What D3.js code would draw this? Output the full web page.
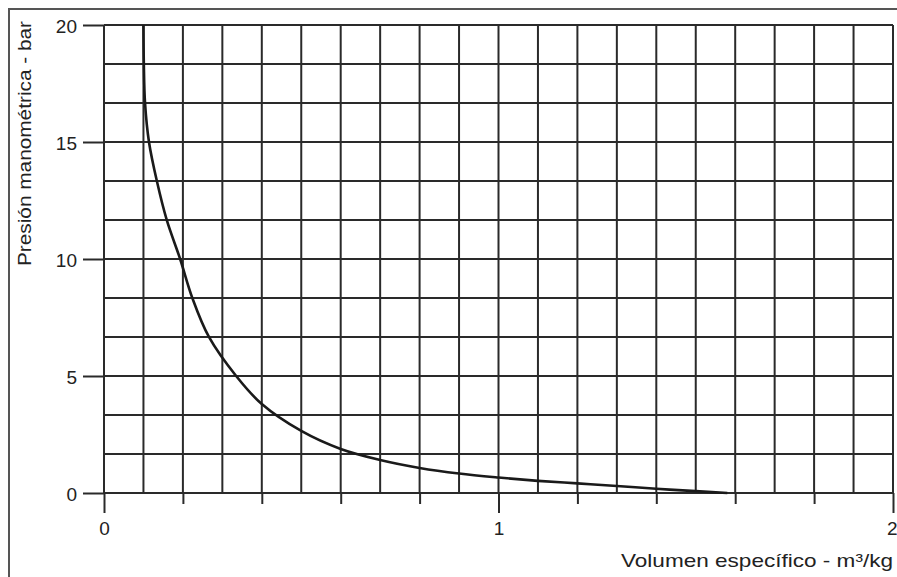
<!DOCTYPE html>
<html>
<head>
<meta charset="utf-8">
<script src="https://cdn.jsdelivr.net/npm/d3@7"></script>
<style>
  html, body { margin: 0; padding: 0; background: #fff; }
  svg { display: block; }
  text { font-family: "Liberation Sans", Arial, sans-serif; fill: #222; }
</style>
</head>
<body>
<svg id="chart" width="897" height="577"></svg>
<script>
// Data
const volume = [0.100, 0.101, 0.104, 0.114, 0.134, 0.159, 0.193, 0.224, 0.266, 0.335, 0.400, 0.500, 0.600, 0.700, 0.800, 0.900, 1.000, 1.100, 1.200, 1.300, 1.400, 1.500, 1.580];
const pressure = [20.0, 18.33, 16.67, 15.0, 13.33, 11.67, 10.0, 8.33, 6.67, 5.0, 3.8, 2.65, 1.88, 1.41, 1.07, 0.83, 0.66, 0.52, 0.41, 0.30, 0.18, 0.08, 0.0];
const xTickLabels = [0, 1, 2];
const yTickLabels = [0, 5, 10, 15, 20];
const xTitle = "Volumen específico - m³/kg";
const yTitle = "Presión manométrica - bar";

const svg = d3.select("#chart");
const x = d3.scaleLinear().domain([0, 2]).range([104, 893]);
const y = d3.scaleLinear().domain([0, 20]).range([493, 25]);

// Outer frame (top and left)
svg.append("path")
  .attr("d", "M9,577 L9,9 L897,9")
  .attr("fill", "none").attr("stroke", "#555").attr("stroke-width", 2);

const gridColor = "#2a2a2a";
// Vertical grid lines every 0.1
const vLines = d3.range(0, 21).map(i => i / 10);
svg.append("g").selectAll("line").data(vLines).join("line")
  .attr("x1", d => x(d)).attr("x2", d => x(d))
  .attr("y1", y(20)).attr("y2", y(0))
  .attr("stroke", gridColor).attr("stroke-width", 2);

// Horizontal grid lines every 20/12
const hLines = d3.range(0, 13).map(i => i * 20 / 12);
svg.append("g").selectAll("line").data(hLines).join("line")
  .attr("x1", x(0)).attr("x2", x(2))
  .attr("y1", d => y(d)).attr("y2", d => y(d))
  .attr("stroke", gridColor).attr("stroke-width", 2);

// Y axis ticks and labels
const yAxis = d3.axisLeft(y).tickValues(yTickLabels).tickSize(21).tickPadding(6).tickFormat(d3.format("d"));
const gy = svg.append("g").attr("transform", `translate(${x(0)},0)`).call(yAxis);
gy.select(".domain").remove();
gy.selectAll(".tick line").attr("stroke", gridColor).attr("stroke-width", 2);
gy.selectAll(".tick text").attr("font-size", 19).attr("fill", "#222")
  .attr("font-family", "Liberation Sans, Arial, sans-serif").attr("dy", "0.4em");

// X axis minor ticks every 0.2
const minor = d3.range(0, 11).map(i => i * 0.2).filter(d => !xTickLabels.some(t => Math.abs(t - d) < 1e-9));
const gxm = svg.append("g").attr("transform", `translate(0,${y(0)})`)
  .call(d3.axisBottom(x).tickValues(minor).tickSize(11).tickFormat(""));
gxm.select(".domain").remove();
gxm.selectAll(".tick line").attr("stroke", gridColor).attr("stroke-width", 2);

// X axis major ticks with labels
const gx = svg.append("g").attr("transform", `translate(0,${y(0)})`)
  .call(d3.axisBottom(x).tickValues(xTickLabels).tickSize(20).tickPadding(9).tickFormat(d3.format("d")));
gx.select(".domain").remove();
gx.selectAll(".tick line").attr("stroke", gridColor).attr("stroke-width", 2);
gx.selectAll(".tick text").attr("font-size", 19).attr("fill", "#222")
  .attr("font-family", "Liberation Sans, Arial, sans-serif");
// keep the last label inside the window
gx.selectAll(".tick text").filter(d => d === 2).attr("text-anchor", "end").attr("dx", 4);

// Curve
const line = d3.line().x((d, i) => x(volume[i])).y(d => y(d)).curve(d3.curveCatmullRom.alpha(0.5));
svg.append("path").datum(pressure)
  .attr("d", line)
  .attr("fill", "none").attr("stroke", "#1a1a1a").attr("stroke-width", 2.6);

// Axis titles
svg.append("text")
  .attr("x", 893).attr("y", 567)
  .attr("text-anchor", "end").attr("font-size", 19)
  .attr("textLength", 272).attr("lengthAdjust", "spacingAndGlyphs")
  .text(xTitle);

svg.append("text")
  .attr("transform", "translate(31,21) rotate(-90)")
  .attr("text-anchor", "end").attr("font-size", 19)
  .attr("textLength", 245).attr("lengthAdjust", "spacingAndGlyphs")
  .text(yTitle);
</script>
</body>
</html>
